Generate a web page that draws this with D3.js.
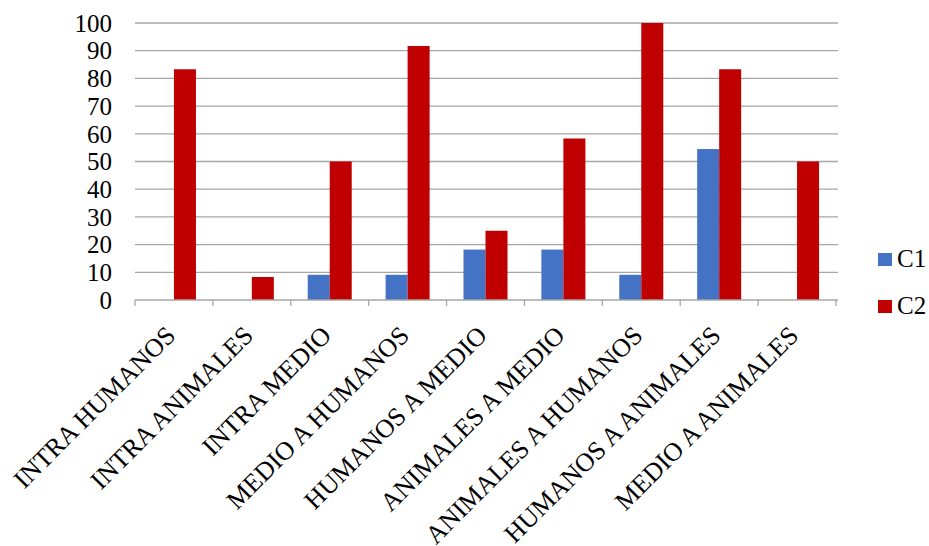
<!DOCTYPE html>
<html><head><meta charset="utf-8">
<script src="https://cdn.jsdelivr.net/npm/d3@7"></script>
<style>body{margin:0;background:#fff}svg{display:block}</style>
</head><body>
<svg id="chart" width="929" height="546"></svg>
<script>
const categories = ["INTRA HUMANOS","INTRA ANIMALES","INTRA MEDIO","MEDIO A HUMANOS","HUMANOS A MEDIO","ANIMALES A MEDIO","ANIMALES A HUMANOS","HUMANOS A ANIMALES","MEDIO A ANIMALES"];
const seriesNames = ["C1","C2"];
const c1Values = [0, 0, 9.1, 9.1, 18.2, 18.2, 9.1, 54.5, 0];
const c2Values = [83.3, 8.3, 50, 91.7, 25, 58.3, 100, 83.3, 50];
const yTicks = [0,10,20,30,40,50,60,70,80,90,100];
const colors = ["#4472C4", "#C00000"];

const svg = d3.select("#chart");
const mLeft = 135, mRight = 836, mTop = 23, mBottom = 300;
const font = "'Liberation Serif','Times New Roman',serif";

const x0 = d3.scaleBand().domain(categories).range([mLeft, mRight]).padding(0);
const x1 = d3.scaleBand().domain(seriesNames).range([0, x0.bandwidth()]).paddingInner(0).paddingOuter(0.77);
const y = d3.scaleLinear().domain([0, 100]).range([mBottom, mTop]);
const color = d3.scaleOrdinal().domain(seriesNames).range(colors);

// gridlines
svg.append("g").selectAll("line").data(yTicks.filter(d => d > 0)).join("line")
  .attr("x1", mLeft).attr("x2", mRight + 2)
  .attr("y1", d => y(d)).attr("y2", d => y(d))
  .attr("stroke", "#a6a6a6").attr("stroke-width", 1.3);

// y labels
svg.append("g").selectAll("text").data(yTicks).join("text")
  .attr("x", 112).attr("y", d => y(d)).attr("dy", "0.35em")
  .attr("text-anchor", "end").attr("font-family", font).attr("font-size", 25)
  .attr("fill", "#000").text(d => d);

// bars
const data = categories.map((c, i) => ({cat: c, vals: [{s: "C1", v: c1Values[i]}, {s: "C2", v: c2Values[i]}]}));
const groups = svg.append("g").selectAll("g").data(data).join("g")
  .attr("transform", d => `translate(${x0(d.cat)},0)`);
groups.selectAll("rect").data(d => d.vals.filter(e => e.v > 0)).join("rect")
  .attr("x", d => x1(d.s)).attr("width", x1.bandwidth())
  .attr("y", d => y(d.v)).attr("height", d => y(0) - y(d.v))
  .attr("fill", d => color(d.s));

// x axis
const xAxis = svg.append("g");
xAxis.append("line").attr("x1", mLeft).attr("x2", mRight + 2).attr("y1", mBottom).attr("y2", mBottom)
  .attr("stroke", "#a6a6a6").attr("stroke-width", 1.3);
const bounds = categories.map(c => x0(c)).concat([mRight]);
xAxis.selectAll("line.tk").data(bounds).join("line").attr("class", "tk")
  .attr("x1", d => d).attr("x2", d => d).attr("y1", mBottom).attr("y2", mBottom + 6)
  .attr("stroke", "#a6a6a6").attr("stroke-width", 1.3);
xAxis.selectAll("text").data(categories).join("text")
  .attr("transform", d => `translate(${x0(d) + x0.bandwidth() / 2 + 3},${mBottom + 37}) rotate(-45)`)
  .attr("text-anchor", "end").attr("font-family", font).attr("font-size", 26)
  .attr("fill", "#000").text(d => d);

// legend
const legend = svg.append("g").selectAll("g").data(seriesNames).join("g")
  .attr("transform", (d, i) => `translate(878,${253 + i * 47})`);
legend.append("rect").attr("width", 14).attr("height", 13).attr("fill", d => color(d));
legend.append("text").attr("x", 19).attr("y", 14).attr("font-family", font).attr("font-size", 25)
  .attr("fill", "#000").text(d => d);
</script>
</body></html>
